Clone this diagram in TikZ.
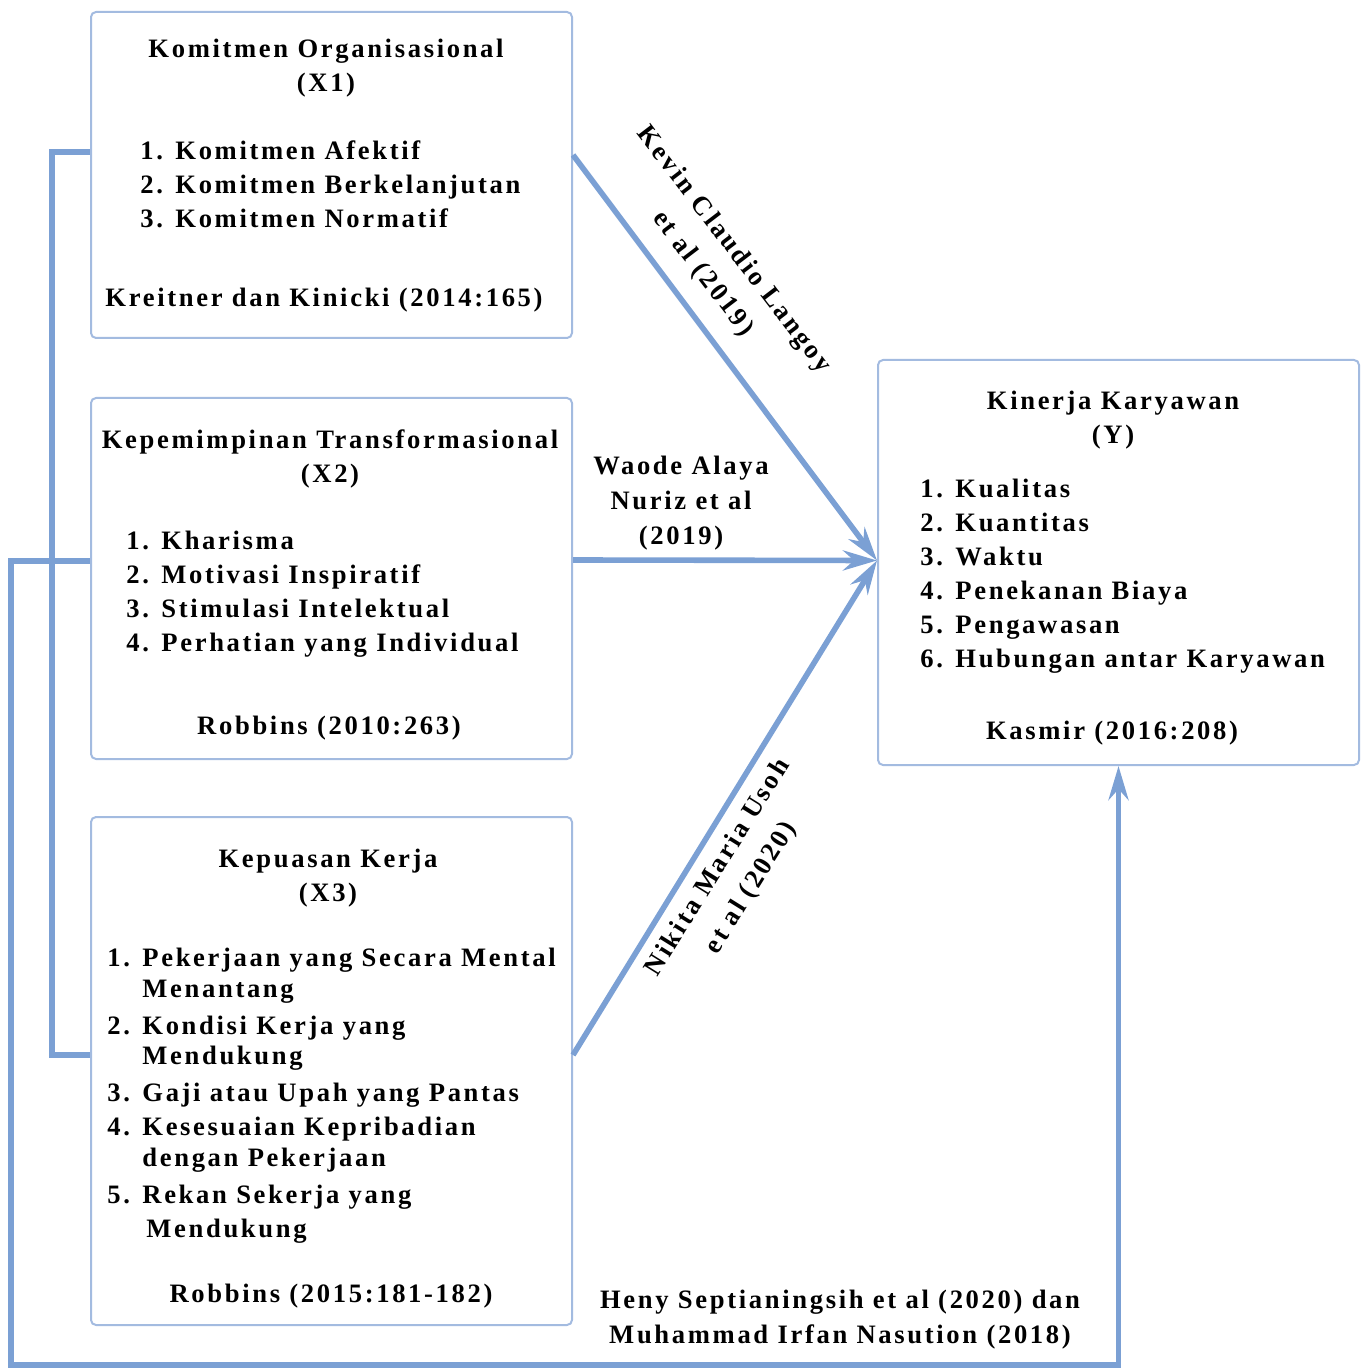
\documentclass[tikz,border=0pt]{standalone}
\usepackage{fontspec}
\setmainfont{Liberation Serif}[LetterSpace=10]
\usetikzlibrary{arrows.meta}
\definecolor{lineblue}{HTML}{7BA0D4}
\definecolor{boxblue}{HTML}{A3BBE0}
\begin{document}
\begin{tikzpicture}[x=0.5pt,y=-0.5pt,
  box/.style={draw=boxblue,line width=1pt,rounded corners=2.5pt,minimum width=240.5pt,inner sep=0pt},
  conn/.style={draw=lineblue,line width=2.8pt},
  arr/.style={conn,-{Stealth[length=17pt,width=10pt]}},
  txt/.style={font=\fontsize{13.3}{17.5}\selectfont\bfseries,inner sep=0pt},
  ctr/.style={txt,anchor=mid,yshift=-1.5pt},
  lft/.style={txt,anchor=mid west,yshift=-1.5pt},
  lbl/.style={txt,align=center},
  rlbl/.style={lbl,font=\fontsize{13.3}{19.5}\selectfont\bfseries},
]
\useasboundingbox (0,0) rectangle (1365,1368);
% boxes
\node[box,minimum height=163pt] (X1) at (331.5,175) {};
\node[box,minimum height=180.5pt] (X2) at (331.5,578.5) {};
\node[box,minimum height=254pt] (X3) at (331.5,1071) {};
\node[box,minimum height=202.5pt] (Y) at (1118.5,562.5) {};
% X1 text
\node[ctr] (a1) at (326,50) {Komitmen Organisasional};
\node[ctr] (a2) at (326,84) {(X1)};
\node[lft] (a3) at (140,152) {1. Komitmen Afektif};
\node[lft] (a4) at (140,186) {2. Komitmen Berkelanjutan};
\node[lft] (a5) at (140,220) {3. Komitmen Normatif};
\node[ctr] (a6) at (324,299) {Kreitner dan Kinicki (2014:165)};
% X2 text
\node[ctr] (b1) at (330,441) {Kepemimpinan Transformasional};
\node[ctr] (b2) at (330,475) {(X2)};
\node[lft] (b3) at (126,542) {1. Kharisma};
\node[lft] (b4) at (126,576) {2. Motivasi Inspiratif};
\node[lft] (b5) at (126,610) {3. Stimulasi Intelektual};
\node[lft] (b6) at (126,644) {4. Perhatian yang Individual};
\node[ctr] (b7) at (329,727) {Robbins (2010:263)};
% X3 text
\node[ctr] (c1) at (328,860) {Kepuasan Kerja};
\node[ctr] (c2) at (328,894) {(X3)};
\node[lft] (c3) at (107,959) {1. Pekerjaan yang Secara Mental};
\node[lft] (c4) at (142,990) {Menantang};
\node[lft] (c5) at (107,1027) {2. Kondisi Kerja yang};
\node[lft] (c6) at (142,1057) {Mendukung};
\node[lft] (c7) at (107,1094) {3. Gaji atau Upah yang Pantas};
\node[lft] (c8) at (107,1128) {4. Kesesuaian Kepribadian};
\node[lft] (c9) at (142,1159) {dengan Pekerjaan};
\node[lft] (c10) at (107,1196) {5. Rekan Sekerja yang};
\node[lft] (c11) at (146,1230) {Mendukung};
\node[ctr] (c12) at (331,1295) {Robbins (2015:181-182)};
% Y text
\node[ctr] (d1) at (1113,402) {Kinerja Karyawan};
\node[ctr] (d2) at (1113,436) {(Y)};
\node[lft] (d3) at (920,490) {1. Kualitas};
\node[lft] (d4) at (920,524) {2. Kuantitas};
\node[lft] (d5) at (920,558) {3. Waktu};
\node[lft] (d6) at (920,592) {4. Penekanan Biaya};
\node[lft] (d7) at (920,626) {5. Pengawasan};
\node[lft] (d8) at (920,660) {6. Hubungan antar Karyawan};
\node[ctr] (d9) at (1112,732) {Kasmir (2016:208)};
% connectors
\draw[arr] ([yshift=10pt]X1.east) -- ([yshift=1pt]Y.west);
\draw[arr] ([yshift=9.25pt]X2.east) -- ([yshift=1pt]Y.west);
\draw[arr] ([yshift=8pt]X3.east) -- ([yshift=1pt]Y.west);
\draw[conn] ([yshift=11.5pt]X1.west) -- ++(-38,0) |- ([yshift=8pt]X3.west);
\draw[arr] ([yshift=8.75pt]X2.west) -- ++(-79,0) -- ++(0,804) -| (Y.south);
% labels
\node[lbl] (l1) at (681,503) {Waode Alaya\\Nuriz et al\\(2019)};
\node[rlbl,rotate=-52.6] (l2) at (718,262) {Kevin Claudio Langoy\\et al (2019)};
\node[rlbl,rotate=58] (l3) at (735,878) {Nikita Maria Usoh\\et al (2020)};
\node[lbl] (l4) at (840,1320) {Heny Septianingsih et al (2020) dan\\Muhammad Irfan Nasution (2018)};
\end{tikzpicture}
\end{document}
